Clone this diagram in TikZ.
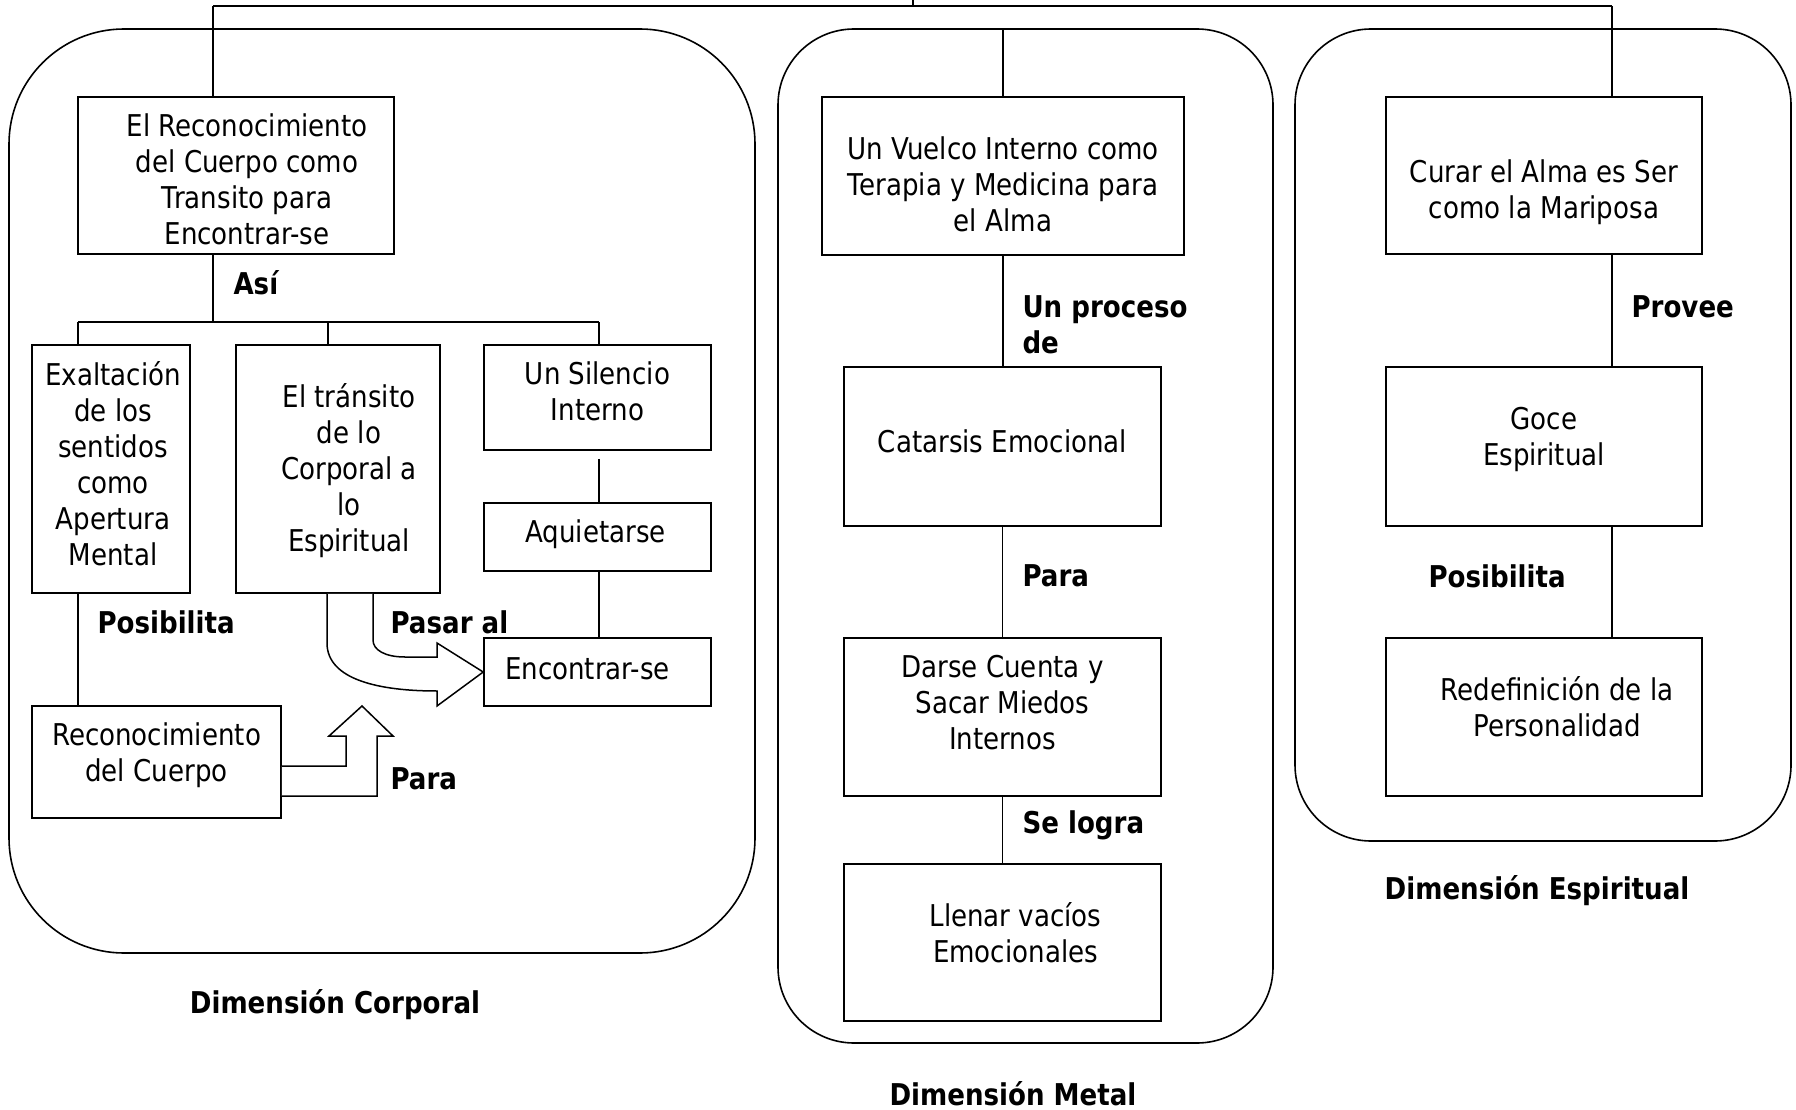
\documentclass[tikz,border=0pt]{standalone}
\usepackage{fontspec}
\setmainfont{DejaVu Sans}[FakeStretch=0.87]
\usetikzlibrary{calc}

\begin{document}
\begin{tikzpicture}[x=1pt,y=-1pt,
  every node/.style={font=\fontsize{30}{36}\selectfont},
  frame/.style={draw,line width=1.6pt,rounded corners=#1},
  box/.style={draw,line width=1.6pt,inner sep=0pt},
  boxtext/.style={align=center,inner sep=0pt},
  tag/.style={anchor=west,font=\fontsize{30}{36}\selectfont\bfseries,align=left},
  title/.style={font=\fontsize{30}{36}\selectfont\bfseries,inner sep=1pt},
  link/.style={line width=1.3pt},
  blockarrow/.style={draw,line width=1.5pt,fill=white,line join=miter}]

  \useasboundingbox (0,0) rectangle (1796,1110);

  % the three dimensions
  \node [frame=115pt,minimum width=746pt,minimum height=924pt] at (382,491) (corporal) {};
  \node [frame=76pt,minimum width=495pt,minimum height=1014pt] at (1025.5,536) (metal) {};
  \node [frame=76pt,minimum width=496pt,minimum height=812pt] at (1543,435) (espiritual) {};

  % corporal
  \node [box,minimum width=316pt,minimum height=157pt] at (236,175.5) (A) {};
  \node [box,minimum width=158pt,minimum height=248pt] at (111,469) (B) {};
  \node [box,minimum width=204pt,minimum height=248pt] at (338,469) (C) {};
  \node [box,minimum width=227pt,minimum height=105pt] at (597.5,397.5) (D) {};
  \node [box,minimum width=227pt,minimum height=68pt] at (597.5,537) (E) {};
  \node [box,minimum width=227pt,minimum height=68pt] at (597.5,672) (F) {};
  \node [box,minimum width=249pt,minimum height=112pt] at (156.5,762) (G) {};

  \node [boxtext] at ($(A)+(11,4)$) (Atext) {El Reconocimiento\\del Cuerpo como\\Transito para\\Encontrar-se};
  \node [boxtext] at ($(B)+(2,-5)$) (Btext) {Exaltación\\de los\\sentidos\\como\\Apertura\\Mental};
  \node [boxtext] at ($(C)+(11,2)$) (Ctext) {El tránsito\\de lo\\Corporal a\\lo\\Espiritual};
  \node [boxtext] at ($(D)+(0,-6)$) (Dtext) {Un Silencio\\Interno};
  \node [boxtext] at ($(E)+(-2,-3)$) (Etext) {Aquietarse};
  \node [boxtext] at ($(F)+(-10,-3)$) (Ftext) {Encontrar-se};
  \node [boxtext] at ($(G)+(0,-7)$) (Gtext) {Reconocimiento\\del Cuerpo};

  % metal
  \node [box,minimum width=362pt,minimum height=158pt] at (1003,176) (H) {};
  \node [box,minimum width=317pt,minimum height=159pt] at (1002.5,446.5) (I) {};
  \node [box,minimum width=317pt,minimum height=158pt] at (1002.5,717) (J) {};
  \node [box,minimum width=317pt,minimum height=157pt] at (1002.5,942.5) (K) {};

  \node [boxtext] at ($(H)+(0,8)$) (Htext) {Un Vuelco Interno como\\Terapia y Medicina para\\el Alma};
  \node [boxtext] at ($(I)+(0,-5)$) (Itext) {Catarsis Emocional};
  \node [boxtext] at ($(J)+(0,-14)$) (Jtext) {Darse Cuenta y\\Sacar Miedos\\Internos};
  \node [boxtext] at ($(K)+(13,-10)$) (Ktext) {Llenar vacíos\\Emocionales};

  % espiritual
  \node [box,minimum width=316pt,minimum height=157pt] at (1544,175.5) (L) {};
  \node [box,minimum width=316pt,minimum height=159pt] at (1544,446.5) (M) {};
  \node [box,minimum width=316pt,minimum height=158pt] at (1544,717) (N) {};

  \node [boxtext] at ($(L)+(0,17)$) (Ltext) {Curar el Alma es Ser\\como la Mariposa};
  \node [boxtext] at ($(M)+(0,-7)$) (Mtext) {Goce\\Espiritual};
  \node [boxtext] at ($(N)+(13,-10)$) (Ntext) {Redefinición de la\\Personalidad};

  % top bar
  \coordinate (root) at (913,0);
  \coordinate (hubL) at (213,6);
  \coordinate (hubR) at (1612,6);
  \draw [link] (hubL) -- (hubR);
  \draw [link] (root) -- (root |- hubL);
  \draw [link] (hubL) -- (hubL |- A.north);
  \draw [link] (hubR) -- (hubR |- L.north);
  \draw [link] (H.north) -- (H.north |- metal.north);

  % fork under A
  \coordinate (forkB) at (78,322);
  \coordinate (forkC) at (328,322);
  \coordinate (forkD) at (599,322);
  \draw [link] (hubL |- A.south) -- (hubL |- forkB);
  \draw [link] (forkB) -- (forkD);
  \draw [link] (forkB) -- (forkB |- B.north);
  \draw [link] (forkC) -- (forkC |- C.north);
  \draw [link] (forkD) -- (forkD |- D.north);
  \draw [link] (forkB |- B.south) -- (forkB |- G.north);
  \draw [link,shorten <=8pt] (forkD |- D.south) -- (forkD |- E.north);
  \draw [link] (forkD |- E.south) -- (forkD |- F.north);

  % chains in metal and espiritual
  \draw [link] (H.south) -- (H.south |- I.north);
  \draw [link] (I.south) -- (J.north);
  \draw [link] (J.south) -- (K.north);
  \draw [link] (hubR |- L.south) -- (hubR |- M.north);
  \draw [link] (hubR |- M.south) -- (hubR |- N.north);

  % block arrows
  \draw [blockarrow] ($(C.south)+(-11,0)$) -- (327,643) .. controls (327,680) and (380,691) .. (437,691)
    -- (437,706) -- (F.west) -- (437,643) -- (437,657) -- (405,657)
    .. controls (385,657) and (373,650) .. (373,640) -- ($(C.south)+(35,0)$);
  \draw [blockarrow] ($(G.east)+(0,4)$) -- (346,766) -- (346,736) -- (329,736) -- (362,706)
    -- (393,736) -- (377,736) -- (377,796) -- ($(G.east)+(0,34)$);

  % labels
  \node [tag] at (230,283) (asi) {Así};
  \node [tag] at (94,622) (posL) {Posibilita};
  \node [tag] at (387,622) (pasar) {Pasar al};
  \node [tag] at (387,779) (paraL) {Para};
  \node [tag] at (1019,324.5) (proceso) {Un proceso\\de};
  \node [tag] at (1019,576) (paraM) {Para};
  \node [tag] at (1019,825) (logra) {Se logra};
  \node [tag] at (1628,307) (provee) {Provee};
  \node [tag] at (1425,576) (posR) {Posibilita};

  \node [title] at (335,1005) (dimC) {Dimensión Corporal};
  \node [title] at (1013,1094) (dimM) {Dimensión Metal};
  \node [title] at (1537,891) (dimE) {Dimensión Espiritual};

\end{tikzpicture}
\end{document}
